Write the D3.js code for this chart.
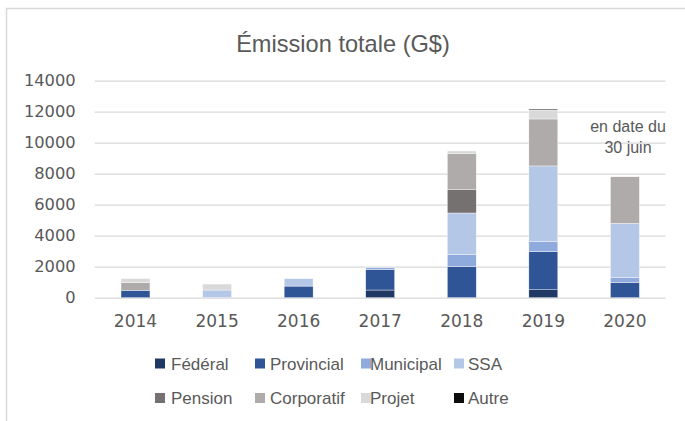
<!DOCTYPE html>
<html><head><meta charset="utf-8">
<script src="https://cdn.jsdelivr.net/npm/d3@7"></script>
<style>body{margin:0;background:#fff}svg{display:block}</style>
</head><body><svg id="c" width="685" height="421"></svg>
<script>
const years = ["2014","2015","2016","2017","2018","2019","2020"];
const seriesNames = ["Fédéral","Provincial","Municipal","SSA","Pension","Corporatif","Projet","Autre"];
const federal    = [0, 0, 0, 495, 0, 510, 0];
const provincial = [480, 0, 750, 1335, 2000, 2460, 990];
const municipal  = [0, 0, 0, 105, 775, 640, 300];
const ssa        = [0, 495, 480, 0, 2690, 4890, 3500];
const pension    = [0, 0, 0, 0, 1530, 0, 0];
const corporatif = [500, 0, 0, 0, 2320, 3030, 3010];
const projet     = [250, 385, 0, 0, 150, 580, 0];
const autre      = [0, 0, 0, 0, 0, 60, 0];
const yTicks = [0, 2000, 4000, 6000, 8000, 10000, 12000, 14000];
const colors = ["#1f3864","#2f5597","#8faadc","#b4c7e7","#767171","#afabab","#d9d9d9","#0d0d0d"];

const seriesValues = [federal, provincial, municipal, ssa, pension, corporatif, projet, autre];
const rows = years.map((y, i) => {
  const r = {year: y};
  seriesNames.forEach((n, k) => r[n] = seriesValues[k][i]);
  return r;
});
const stacked = d3.stack().keys(seriesNames)(rows);

const svg = d3.select("#c");
const txt = "#595959";
svg.append("rect").attr("x",6.5).attr("y",8.5).attr("width",720).attr("height",430)
  .attr("fill","#fff").attr("stroke","#d9d9d9").attr("stroke-width",1.5);

const x = d3.scaleBand().domain(years).range([94.7, 665.7]).paddingInner(0.645).paddingOuter(0.3225);
const y = d3.scaleLinear().domain([0, 14000]).range([297.7, 80.7]);

svg.append("text").attr("x", 343).attr("y", 51.5).attr("text-anchor","middle")
  .attr("font-family","'Liberation Sans', Arial, sans-serif").attr("font-size", 23.6)
  .attr("fill", txt).text("Émission totale (G$)");

// gridlines
const yAxis = d3.axisLeft(y).tickValues(yTicks).tickSize(-(665.7-94.7)).tickPadding(19).tickFormat(d3.format("d"));
const gy = svg.append("g").attr("transform","translate(94.7,0)").call(yAxis);
gy.select(".domain").remove();
gy.selectAll(".tick line").attr("stroke","#d9d9d9").attr("stroke-width",1.2);
gy.selectAll(".tick text").attr("fill",txt).attr("font-family","'DejaVu Sans', sans-serif").attr("font-size",16.3);

// bars
svg.append("g").selectAll("g").data(stacked).join("g")
  .attr("fill", (d, i) => colors[i])
  .selectAll("rect").data(d => d.filter(p => p[1] - p[0] > 0)).join("rect")
  .attr("x", d => x(d.data.year))
  .attr("width", x.bandwidth())
  .attr("y", d => y(d[1]))
  .attr("height", d => y(d[0]) - y(d[1]))
  .attr("stroke","#fff").attr("stroke-width",0.4);

// x axis
const xAxis = d3.axisBottom(x).tickSize(0).tickPadding(17);
const gx = svg.append("g").attr("transform","translate(0,297.7)").call(xAxis);
gx.select(".domain").remove();
gx.selectAll(".tick text").attr("fill",txt).attr("font-family","'DejaVu Sans', sans-serif").attr("font-size",17);

// annotation
const ann = svg.append("text").attr("text-anchor","middle")
  .attr("font-family","'Liberation Sans', Arial, sans-serif").attr("font-size",16).attr("fill",txt);
ann.append("tspan").attr("x",628).attr("y",132.3).text("en date du");
ann.append("tspan").attr("x",628).attr("y",152.7).text("30 juin");

// legend
const legX = [155, 255, 361, 454];
const legTextX = [171, 270, 370, 468];
const legY = [363.5, 398];
const leg = svg.append("g");
seriesNames.forEach((n, i) => {
  const col = i % 4, row = Math.floor(i / 4);
  leg.append("rect").attr("x", legX[col]).attr("y", legY[row] - 5).attr("width",10).attr("height",10).attr("fill", colors[i]);
  leg.append("text").attr("x", legTextX[col]).attr("y", legY[row] + 6.3)
    .attr("font-family","'Liberation Sans', Arial, sans-serif").attr("font-size",17).attr("fill",txt).text(n);
});
</script></body></html>
